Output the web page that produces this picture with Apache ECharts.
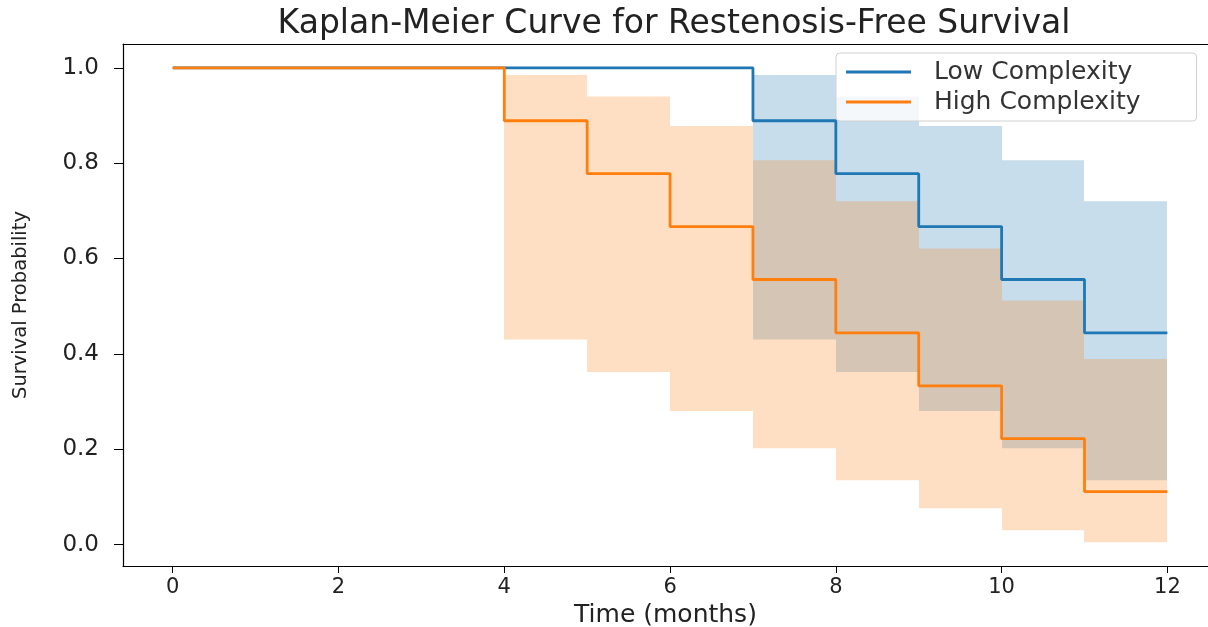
<!DOCTYPE html>
<html>
<head>
<meta charset="utf-8">
<script src="https://cdn.jsdelivr.net/npm/echarts@6/dist/echarts.min.js"></script>
<style>html,body{margin:0;padding:0;background:#fff}#c{width:1208px;height:627px}</style>
</head>
<body>
<div id="c"></div>
<script>
// ---- data ----
const lowTimes = [0, 7, 8, 9, 10, 11, 12];
const lowSurv  = [1.0, 0.889, 0.778, 0.667, 0.556, 0.444, 0.444];
const highTimes = [0, 4, 5, 6, 7, 8, 9, 10, 11, 12];
const highSurv  = [1.0, 0.889, 0.778, 0.667, 0.556, 0.444, 0.333, 0.222, 0.111, 0.111];

// confidence band steps: value holds from times[i] to times[i+1]
const lowCiTimes = [7, 8, 9, 10, 11, 12];
const lowCiUpper = [0.985, 0.94, 0.878, 0.806, 0.72];
const lowCiLower = [0.43, 0.362, 0.28, 0.202, 0.135];

const highCiTimes = [4, 5, 6, 7, 8, 9, 10, 11, 12];
const highCiUpper = [0.985, 0.94, 0.878, 0.806, 0.72, 0.621, 0.512, 0.389];
const highCiLower = [0.43, 0.362, 0.28, 0.202, 0.135, 0.076, 0.03, 0.005];

const xTicks = [0, 2, 4, 6, 8, 10, 12];
const yTicks = [0, 0.2, 0.4, 0.6, 0.8, 1.0];

const BLUE = '#1f77b4', ORANGE = '#ff7f0e';
const FONT = 'DejaVu Sans';

function pairs(xs, ys) { return xs.map((x, i) => [x, ys[i]]); }
function bandItems(ts, up, lo) {
  return up.map((u, i) => [ts[i], ts[i + 1], lo[i], u]);
}

function band(name, ts, up, lo, fill) {
  return {
    name: name, type: 'custom', silent: true, z: 1,
    encode: { x: [0, 1], y: [2, 3] },
    data: bandItems(ts, up, lo),
    renderItem: (params, api) => {
      const a = api.coord([api.value(0), api.value(3)]);
      const b = api.coord([api.value(1), api.value(2)]);
      const x0 = Math.round(a[0]), x1 = Math.round(b[0]);
      return { type: 'rect', shape: { x: x0, y: a[1], width: x1 - x0, height: b[1] - a[1] },
               style: { fill: fill } };
    }
  };
}

const chart = echarts.init(document.getElementById('c'), null, { renderer: 'canvas' });
chart.setOption({
  animation: false,
  backgroundColor: '#fff',
  title: {
    text: 'Kaplan-Meier Curve for Restenosis-Free Survival',
    left: 669, top: 3, textAlign: 'center',
    textStyle: { fontFamily: FONT, fontSize: 33, fontWeight: 'normal', color: '#222' }
  },
  legend: {
    data: ['Low Complexity', 'High Complexity'],
    left: 836, top: 53, orient: 'vertical',
    padding: [5, 56, 5, 10],
    icon: 'rect', itemWidth: 65, itemHeight: 3, itemGap: 2,
    backgroundColor: 'rgba(255,255,255,0.8)',
    borderColor: '#d0d0d0', borderWidth: 1, borderRadius: 4,
    textStyle: { fontFamily: FONT, fontSize: 25, color: '#333', lineHeight: 28, padding: [0, 0, 0, 18] }
  },
  grid: { left: 123, top: 44, right: 0, bottom: 61, show: false, outerBoundsMode: 'none', containLabel: false },
  xAxis: [{
    type: 'value', min: -0.6, max: 12.49,
    name: 'Time (months)', nameLocation: 'middle', nameGap: 33,
    nameTextStyle: { fontFamily: FONT, fontSize: 25, color: '#222' },
    splitLine: { show: false },
    axisLine: { onZero: false, lineStyle: { color: '#000', width: 1.2 } },
    axisTick: { customValues: xTicks, length: 7, lineStyle: { color: '#000' } },
    axisLabel: { customValues: xTicks, margin: 11, fontFamily: FONT, fontSize: 21, color: '#222' }
  }, {
    type: 'value', position: 'top', min: -0.6, max: 12.49,
    splitLine: { show: false },
    axisLine: { onZero: false, lineStyle: { color: '#000', width: 1.2 } },
    axisTick: { show: false }, axisLabel: { show: false }
  }],
  yAxis: {
    type: 'value', min: -0.045, max: 1.05,
    name: 'Survival Probability', nameLocation: 'middle', nameGap: 92, nameRotate: 90,
    nameTextStyle: { fontFamily: FONT, fontSize: 19.5, color: '#222' },
    splitLine: { show: false },
    axisLine: { show: true, onZero: false, lineStyle: { color: '#000', width: 1.2 } },
    axisTick: { show: true, customValues: yTicks, length: 9, lineStyle: { color: '#000' } },
    axisLabel: { customValues: yTicks, margin: 24, fontFamily: FONT, fontSize: 23, color: '#222',
      formatter: v => v.toFixed(1) }
  },
  series: [
    band('Low CI', lowCiTimes, lowCiUpper, lowCiLower, 'rgba(31,119,180,0.25)'),
    { name: 'Low Complexity', type: 'line', step: 'end', symbol: 'none', showSymbol: false,
      data: pairs(lowTimes, lowSurv), lineStyle: { color: BLUE, width: 2.8 }, itemStyle: { color: BLUE }, z: 3 },
    band('High CI', highCiTimes, highCiUpper, highCiLower, 'rgba(255,127,14,0.25)'),
    { name: 'High Complexity', type: 'line', step: 'end', symbol: 'none', showSymbol: false,
      data: pairs(highTimes, highSurv), lineStyle: { color: ORANGE, width: 2.8 }, itemStyle: { color: ORANGE }, z: 4 }
  ]
});
</script>
</body>
</html>
